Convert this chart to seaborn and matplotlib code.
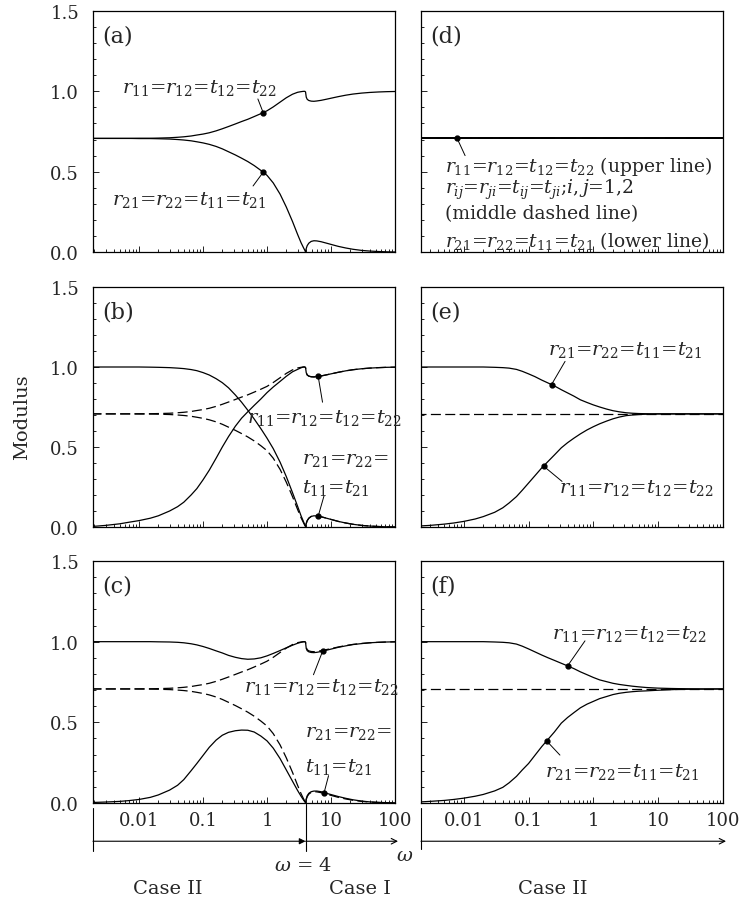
import numpy as np
import pandas as pd
import matplotlib
matplotlib.use("Agg")
import matplotlib.pyplot as plt
import matplotlib.ticker as mticker
import seaborn as sns

# ---------------- data ----------------
W_LEFT = [0.0018, 0.003, 0.005, 0.007, 0.01, 0.015, 0.02, 0.03, 0.04, 0.05, 0.065, 0.08,
          0.1, 0.125, 0.16, 0.2, 0.25, 0.32, 0.4, 0.5, 0.63, 0.8, 1.0, 1.25, 1.6, 2.0,
          2.5, 3.0, 3.4, 3.7, 3.9, 4.0, 4.1, 4.25, 4.5, 4.9, 5.4, 6.0, 7.0, 8.5,
          10.5, 13, 17, 22, 30, 40, 55, 75, 100]

# panel (a) (also the dashed curves of panels (b) and (c))
A_UPPER = [0.707, 0.707, 0.707, 0.707, 0.708, 0.708, 0.709, 0.711, 0.714, 0.717, 0.722, 0.728,
           0.734, 0.742, 0.754, 0.767, 0.781, 0.797, 0.812, 0.826, 0.843, 0.861, 0.879, 0.903, 0.933, 0.960,
           0.982, 0.994, 0.998, 1.000, 1.000, 0.996, 0.964, 0.950, 0.943, 0.939, 0.938, 0.940, 0.944, 0.951,
           0.959, 0.967, 0.976, 0.983, 0.989, 0.993, 0.996, 0.998, 0.999]
A_LOWER = [0.707, 0.707, 0.707, 0.707, 0.706, 0.706, 0.705, 0.703, 0.700, 0.697, 0.692, 0.686,
           0.679, 0.670, 0.657, 0.642, 0.624, 0.604, 0.584, 0.563, 0.538, 0.508, 0.477, 0.430, 0.360, 0.280,
           0.190, 0.110, 0.058, 0.028, 0.010, 0.000, 0.022, 0.040, 0.055, 0.066, 0.070, 0.069, 0.064, 0.055,
           0.045, 0.035, 0.025, 0.017, 0.010, 0.006, 0.003, 0.001, 0.000]

# panel (b) solid curves
B_UPPER = [0.003, 0.010, 0.020, 0.030, 0.040, 0.055, 0.070, 0.100, 0.127, 0.155, 0.200, 0.240,
           0.295, 0.355, 0.430, 0.500, 0.565, 0.630, 0.680, 0.720, 0.760, 0.800, 0.840, 0.875, 0.910, 0.942,
           0.970, 0.985, 0.995, 1.000, 1.000, 0.996, 0.964, 0.950, 0.943, 0.939, 0.938, 0.940, 0.944, 0.951,
           0.959, 0.967, 0.976, 0.983, 0.989, 0.993, 0.996, 0.998, 0.999]
B_LOWER = [1.000, 1.000, 1.000, 1.000, 1.000, 0.999, 0.998, 0.996, 0.993, 0.990, 0.984, 0.977,
           0.965, 0.950, 0.927, 0.902, 0.870, 0.825, 0.780, 0.730, 0.675, 0.615, 0.555, 0.490, 0.405, 0.315,
           0.215, 0.130, 0.070, 0.035, 0.012, 0.000, 0.022, 0.040, 0.055, 0.066, 0.070, 0.069, 0.064, 0.055,
           0.045, 0.035, 0.025, 0.017, 0.010, 0.006, 0.003, 0.001, 0.000]

# panel (c) solid curves
C_UPPER = [1.000, 1.000, 1.000, 1.000, 1.000, 1.000, 0.999, 0.998, 0.996, 0.993, 0.987, 0.980,
           0.970, 0.958, 0.943, 0.930, 0.915, 0.903, 0.895, 0.891, 0.893, 0.900, 0.912, 0.927, 0.945, 0.962,
           0.978, 0.990, 0.996, 0.999, 1.000, 0.995, 0.958, 0.944, 0.937, 0.933, 0.932, 0.934, 0.939, 0.947,
           0.956, 0.965, 0.974, 0.982, 0.988, 0.993, 0.996, 0.998, 0.999]
C_LOWER = [0.003, 0.006, 0.010, 0.015, 0.022, 0.035, 0.050, 0.080, 0.110, 0.145, 0.200, 0.245,
           0.295, 0.345, 0.390, 0.420, 0.438, 0.448, 0.452, 0.451, 0.440, 0.415, 0.385, 0.340, 0.275, 0.205,
           0.135, 0.078, 0.042, 0.020, 0.007, 0.000, 0.025, 0.045, 0.060, 0.070, 0.074, 0.074, 0.070, 0.060,
           0.050, 0.040, 0.029, 0.020, 0.012, 0.007, 0.004, 0.002, 0.000]

W_RIGHT = [0.0018, 0.003, 0.005, 0.007, 0.01, 0.015, 0.02, 0.03, 0.04, 0.05, 0.065, 0.08,
           0.1, 0.125, 0.16, 0.2, 0.25, 0.32, 0.4, 0.5, 0.63, 0.8, 1.0, 1.25, 1.6, 2.0,
           2.5, 3.2, 4.0, 5.0, 6.5, 8.0, 10, 15, 20, 30, 50, 100]
E_UPPER = [1.000, 1.000, 1.000, 1.000, 1.000, 1.000, 1.000, 0.998, 0.996, 0.993, 0.985, 0.973,
           0.957, 0.940, 0.918, 0.900, 0.882, 0.858, 0.838, 0.818, 0.795, 0.778, 0.763, 0.750, 0.737, 0.727,
           0.720, 0.714, 0.711, 0.709, 0.708, 0.707, 0.707, 0.707, 0.707, 0.707, 0.707, 0.707]
E_LOWER = [0.005, 0.010, 0.018, 0.025, 0.035, 0.050, 0.065, 0.092, 0.120, 0.150, 0.190, 0.230,
           0.275, 0.320, 0.370, 0.410, 0.450, 0.495, 0.527, 0.555, 0.582, 0.607, 0.627, 0.645, 0.662, 0.676,
           0.687, 0.696, 0.700, 0.703, 0.705, 0.706, 0.707, 0.707, 0.707, 0.707, 0.707, 0.707]
F_UPPER = [1.000, 1.000, 1.000, 1.000, 1.000, 1.000, 1.000, 0.998, 0.996, 0.993, 0.985, 0.972,
           0.955, 0.937, 0.917, 0.900, 0.884, 0.866, 0.850, 0.833, 0.813, 0.795, 0.778, 0.763, 0.752, 0.742,
           0.735, 0.729, 0.724, 0.720, 0.716, 0.714, 0.712, 0.710, 0.709, 0.708, 0.707, 0.707]
F_LOWER = [0.005, 0.010, 0.016, 0.022, 0.030, 0.042, 0.053, 0.075, 0.097, 0.125, 0.165, 0.205,
           0.245, 0.295, 0.350, 0.395, 0.440, 0.495, 0.530, 0.560, 0.590, 0.613, 0.630, 0.647, 0.660, 0.672,
           0.680, 0.686, 0.690, 0.693, 0.695, 0.697, 0.699, 0.702, 0.704, 0.705, 0.706, 0.707]

# flat curves (panel (d) all three, and dashed middle of (e), (f))
W_FLAT = [0.0018, 100]
FLAT = [0.707, 0.707]

XTICKS = [0.01, 0.1, 1, 10, 100]
XTICK_LABELS = ["0.01", "0.1", "1", "10", "100"]
YTICKS = [0.0, 0.5, 1.0, 1.5]
YTICK_LABELS = ["0.0", "0.5", "1.0", "1.5"]
PANEL_LABELS = ["(a)", "(b)", "(c)", "(d)", "(e)", "(f)"]

LBL_UP = r"$r_{11}$=$r_{12}$=$t_{12}$=$t_{22}$"
LBL_LOW = r"$r_{21}$=$r_{22}$=$t_{11}$=$t_{21}$"

# ---------------- style ----------------
sns.set_style("ticks")
plt.rcParams["font.family"] = ["DejaVu Serif"]
plt.rcParams["mathtext.fontset"] = "dejavuserif"

W, H = 740, 904
fig = plt.figure(figsize=(W / 100, H / 100), dpi=100)

def px_axes(left, top, right, bottom):
    return fig.add_axes([left / W, 1 - bottom / H, (right - left) / W, (bottom - top) / H])

rows = [(12, 253), (288, 528), (562, 804)]
axL = [px_axes(93, t, 395, b) for t, b in rows]
axR = [px_axes(421, t, 723, b) for t, b in rows]
ax_a, ax_b, ax_c = axL
ax_d, ax_e, ax_f = axR

LW = 0.9
DASH = (8, 3.5)

def solid(ax, x, y, lw=LW):
    sns.lineplot(x=x, y=y, ax=ax, color="black", linewidth=lw, estimator=None, sort=False)

def dashed(ax, x, y, lw=LW):
    sns.lineplot(x=x, y=y, ax=ax, color="black", linewidth=lw, estimator=None, sort=False,
                 dashes=False, linestyle=(0, DASH))

# (a)
solid(ax_a, W_LEFT, A_UPPER)
solid(ax_a, W_LEFT, A_LOWER)
# (b)
dashed(ax_b, W_LEFT, A_UPPER)
dashed(ax_b, W_LEFT, A_LOWER)
solid(ax_b, W_LEFT, B_UPPER)
solid(ax_b, W_LEFT, B_LOWER)
# (c)
dashed(ax_c, W_LEFT, A_UPPER)
dashed(ax_c, W_LEFT, A_LOWER)
solid(ax_c, W_LEFT, C_UPPER)
solid(ax_c, W_LEFT, C_LOWER)
# (d)
solid(ax_d, W_FLAT, FLAT, lw=1.3)
dashed(ax_d, W_FLAT, FLAT, lw=1.3)
solid(ax_d, W_FLAT, FLAT, lw=1.3)
# (e)
dashed(ax_e, W_FLAT, FLAT)
solid(ax_e, W_RIGHT, E_UPPER)
solid(ax_e, W_RIGHT, E_LOWER)
# (f)
dashed(ax_f, W_FLAT, FLAT)
solid(ax_f, W_RIGHT, F_UPPER)
solid(ax_f, W_RIGHT, F_LOWER)

TICK_FS = 13
for i, ax in enumerate(axL + axR):
    ax.set_xscale("log")
    ax.set_xlim(10 ** -2.72 if ax in axL else 10 ** -2.66, 100)
    ax.set_ylim(0, 1.5)
    ax.set_xlabel("")
    ax.set_ylabel("")
    ax.set_xticks(XTICKS)
    ax.xaxis.set_minor_locator(mticker.LogLocator(base=10, subs=np.arange(2, 10), numticks=20))
    ax.set_yticks(YTICKS)
    ax.yaxis.set_minor_locator(mticker.MultipleLocator(0.1))
    ax.tick_params(which="both", direction="in", top=False, right=False, width=0.6, color="black")
    ax.tick_params(which="major", length=4.5)
    ax.tick_params(which="minor", length=2.5)
    for sp in ax.spines.values():
        sp.set_linewidth(0.9)
        sp.set_color("black")
    if ax in (ax_c, ax_f):
        ax.set_xticklabels(XTICK_LABELS, fontsize=TICK_FS)
        ax.tick_params(axis="x", pad=6)
    else:
        ax.set_xticklabels([])
    if ax in axL:
        ax.set_yticklabels(YTICK_LABELS, fontsize=TICK_FS)
        ax.tick_params(axis="y", pad=10)
    else:
        ax.set_yticklabels([])
    ax.text(0.03, 0.90, PANEL_LABELS[i], transform=ax.transAxes, fontsize=16,
            ha="left", va="center")

# ---------------- annotations ----------------
ANN_FS = 14

def dot_on(ax, xs, ys, w0):
    y0 = float(np.interp(np.log10(w0), np.log10(xs), ys))
    ax.plot([w0], [y0], "o", color="black", ms=3.5, zorder=5)
    return w0, y0

def leader(ax, pt, end):
    ax.annotate("", xy=pt, xycoords="data", xytext=end, textcoords="axes fraction",
                arrowprops=dict(arrowstyle="-", lw=0.7, color="black", shrinkA=0, shrinkB=0))

# (a)
p = dot_on(ax_a, W_LEFT, A_UPPER, 0.87)
leader(ax_a, p, (0.546, 0.635))
ax_a.text(0.354, 0.685, LBL_UP, transform=ax_a.transAxes, fontsize=ANN_FS, ha="center", va="center")
p = dot_on(ax_a, W_LEFT, A_LOWER, 0.87)
leader(ax_a, p, (0.53, 0.274))
ax_a.text(0.318, 0.22, LBL_LOW, transform=ax_a.transAxes, fontsize=ANN_FS, ha="center", va="center")

# (b)
p = dot_on(ax_b, W_LEFT, B_UPPER, 6.3)
leader(ax_b, p, (0.76, 0.52))
ax_b.text(0.765, 0.458, LBL_UP, transform=ax_b.transAxes, fontsize=ANN_FS, ha="center", va="center")
p = dot_on(ax_b, W_LEFT, B_LOWER, 6.3)
leader(ax_b, p, (0.765, 0.13))
ax_b.text(0.692, 0.283, r"$r_{21}$=$r_{22}$=", transform=ax_b.transAxes, fontsize=ANN_FS, ha="left", va="center")
ax_b.text(0.692, 0.167, r"$t_{11}$=$t_{21}$", transform=ax_b.transAxes, fontsize=ANN_FS, ha="left", va="center")

# (c)
p = dot_on(ax_c, W_LEFT, C_UPPER, 7.4)
leader(ax_c, p, (0.73, 0.53))
ax_c.text(0.758, 0.485, LBL_UP, transform=ax_c.transAxes, fontsize=ANN_FS, ha="center", va="center")
p = dot_on(ax_c, W_LEFT, C_LOWER, 7.8)
leader(ax_c, p, (0.78, 0.113))
ax_c.text(0.702, 0.292, r"$r_{21}$=$r_{22}$=", transform=ax_c.transAxes, fontsize=ANN_FS, ha="left", va="center")
ax_c.text(0.702, 0.154, r"$t_{11}$=$t_{21}$", transform=ax_c.transAxes, fontsize=ANN_FS, ha="left", va="center")

# (d)
p = dot_on(ax_d, W_FLAT, FLAT, 0.0079)
leader(ax_d, p, (0.146, 0.40))
D_FS = 13.5
ax_d.text(0.08, 0.357, LBL_UP + " (upper line)", transform=ax_d.transAxes, fontsize=D_FS, ha="left", va="center")
ax_d.text(0.08, 0.261, r"$r_{ij}$=$r_{ji}$=$t_{ij}$=$t_{ji}$;$i,j$=1,2", transform=ax_d.transAxes,
          fontsize=D_FS, ha="left", va="center")
ax_d.text(0.08, 0.162, "(middle dashed line)", transform=ax_d.transAxes, fontsize=D_FS, ha="left", va="center")
ax_d.text(0.08, 0.05, LBL_LOW + " (lower line)", transform=ax_d.transAxes, fontsize=D_FS, ha="left", va="center")

# (e)
p = dot_on(ax_e, W_RIGHT, E_UPPER, 0.226)
leader(ax_e, p, (0.477, 0.69))
ax_e.text(0.676, 0.742, LBL_LOW, transform=ax_e.transAxes, fontsize=ANN_FS, ha="center", va="center")
p = dot_on(ax_e, W_RIGHT, E_LOWER, 0.17)
leader(ax_e, p, (0.467, 0.19))
ax_e.text(0.712, 0.167, LBL_UP, transform=ax_e.transAxes, fontsize=ANN_FS, ha="center", va="center")

# (f)
p = dot_on(ax_f, W_RIGHT, F_UPPER, 0.4)
leader(ax_f, p, (0.543, 0.67))
ax_f.text(0.689, 0.702, LBL_UP, transform=ax_f.transAxes, fontsize=ANN_FS, ha="center", va="center")
p = dot_on(ax_f, W_RIGHT, F_LOWER, 0.19)
leader(ax_f, p, (0.46, 0.198))
ax_f.text(0.667, 0.132, LBL_LOW, transform=ax_f.transAxes, fontsize=ANN_FS, ha="center", va="center")

# ---------------- regime arrows below the bottom row ----------------
AY = -0.158
ax_c.plot([0, 0], [-0.02, -0.20], transform=ax_c.transAxes, color="black", lw=0.8, clip_on=False)
ax_c.plot([4, 4], [-0.005, -0.20], transform=ax_c.get_xaxis_transform(), color="black", lw=0.8, clip_on=False)
ax_c.annotate("", xy=(4, AY), xycoords=("data", "axes fraction"), xytext=(0, AY), textcoords="axes fraction",
              arrowprops=dict(arrowstyle="-|>", lw=0.8, color="black", mutation_scale=9, shrinkA=0, shrinkB=0),
              annotation_clip=False)
ax_c.annotate("", xy=(1.01, AY), xycoords="axes fraction", xytext=(4, AY), textcoords=("data", "axes fraction"),
              arrowprops=dict(arrowstyle="->", lw=0.8, color="black", mutation_scale=10, shrinkA=0, shrinkB=0),
              annotation_clip=False)
ax_f.plot([0, 0], [-0.02, -0.19], transform=ax_f.transAxes, color="black", lw=0.8, clip_on=False)
ax_f.annotate("", xy=(1.01, AY), xycoords="axes fraction", xytext=(0, AY), textcoords="axes fraction",
              arrowprops=dict(arrowstyle="->", lw=0.8, color="black", mutation_scale=10, shrinkA=0, shrinkB=0),
              annotation_clip=False)

fig.text(405 / W, 1 - 856 / H, r"$\omega$", fontsize=14, ha="center", va="center")
fig.text(303 / W, 1 - 866 / H, r"$\omega$ = 4", fontsize=14, ha="center", va="center")
fig.text(168 / W, 1 - 889 / H, "Case II", fontsize=14, ha="center", va="center")
fig.text(360 / W, 1 - 889 / H, "Case I", fontsize=14, ha="center", va="center")
fig.text(553 / W, 1 - 889 / H, "Case II", fontsize=14, ha="center", va="center")
fig.text(22 / W, 1 - 417 / H, "Modulus", fontsize=14, rotation=90, ha="center", va="center")

fig.savefig("out.png", dpi=100, facecolor="white")
